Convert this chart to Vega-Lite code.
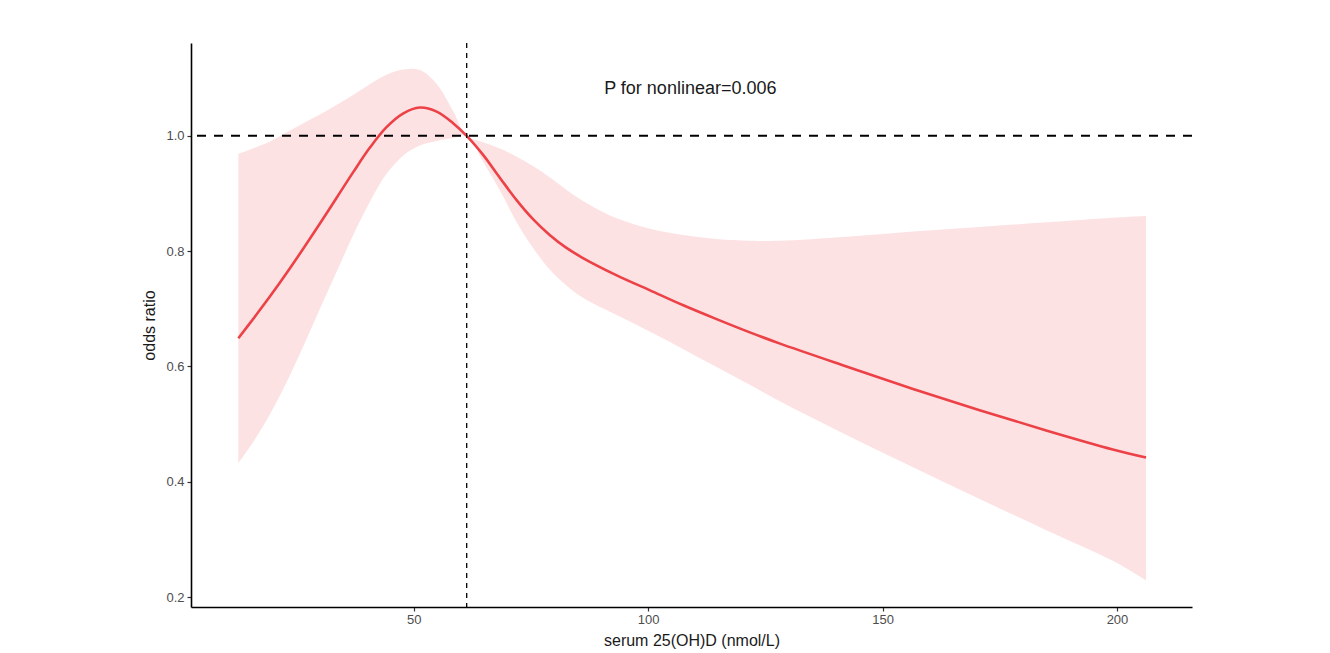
{
  "$schema": "https://vega.github.io/schema/vega-lite/v6.json",
  "width": 1001,
  "height": 564,
  "autosize": {"type": "none"},
  "padding": {"left": 191, "top": 43, "right": 138, "bottom": 46},
  "background": "white",
  "config": {
    "view": {"stroke": null},
    "font": "Liberation Sans",
    "axis": {
      "grid": false,
      "domainColor": "#000000",
      "domainWidth": 1.6,
      "tickColor": "#333333",
      "tickWidth": 1.2,
      "tickSize": 4,
      "labelColor": "#4d4d4d",
      "labelFontSize": 13,
      "labelFont": "Liberation Sans",
      "titleFont": "Liberation Sans",
      "titleFontSize": 16,
      "titleFontWeight": "normal",
      "titleColor": "#1a1a1a"
    }
  },
  "datasets": {
    "curve": [
      {"x": 12.6, "or": 0.649, "lo": 0.432, "hi": 0.969},
      {"x": 16.0, "or": 0.685, "lo": 0.472, "hi": 0.979},
      {"x": 19.4, "or": 0.722, "lo": 0.518, "hi": 0.990},
      {"x": 22.9, "or": 0.762, "lo": 0.573, "hi": 1.006},
      {"x": 26.5, "or": 0.805, "lo": 0.636, "hi": 1.022},
      {"x": 30.0, "or": 0.848, "lo": 0.700, "hi": 1.037},
      {"x": 33.6, "or": 0.893, "lo": 0.765, "hi": 1.054},
      {"x": 37.1, "or": 0.937, "lo": 0.828, "hi": 1.071},
      {"x": 40.7, "or": 0.980, "lo": 0.886, "hi": 1.090},
      {"x": 44.2, "or": 1.015, "lo": 0.934, "hi": 1.106},
      {"x": 47.8, "or": 1.039, "lo": 0.966, "hi": 1.115},
      {"x": 51.3, "or": 1.049, "lo": 0.983, "hi": 1.114},
      {"x": 54.9, "or": 1.042, "lo": 0.991, "hi": 1.090},
      {"x": 58.4, "or": 1.022, "lo": 0.996, "hi": 1.043},
      {"x": 61.3, "or": 1.000, "lo": 1.000, "hi": 1.000},
      {"x": 64.8, "or": 0.967, "lo": 0.955, "hi": 0.989},
      {"x": 68.4, "or": 0.927, "lo": 0.905, "hi": 0.978},
      {"x": 71.9, "or": 0.889, "lo": 0.851, "hi": 0.964},
      {"x": 75.5, "or": 0.855, "lo": 0.805, "hi": 0.947},
      {"x": 79.0, "or": 0.828, "lo": 0.768, "hi": 0.928},
      {"x": 82.5, "or": 0.806, "lo": 0.741, "hi": 0.907},
      {"x": 86.1, "or": 0.788, "lo": 0.719, "hi": 0.887},
      {"x": 93.3, "or": 0.758, "lo": 0.689, "hi": 0.857},
      {"x": 100.4, "or": 0.732, "lo": 0.660, "hi": 0.839},
      {"x": 107.5, "or": 0.706, "lo": 0.630, "hi": 0.828},
      {"x": 114.6, "or": 0.682, "lo": 0.599, "hi": 0.821},
      {"x": 121.7, "or": 0.659, "lo": 0.568, "hi": 0.818},
      {"x": 128.0, "or": 0.640, "lo": 0.540, "hi": 0.818},
      {"x": 142.3, "or": 0.600, "lo": 0.481, "hi": 0.825},
      {"x": 156.5, "or": 0.561, "lo": 0.425, "hi": 0.834},
      {"x": 170.7, "or": 0.524, "lo": 0.370, "hi": 0.842},
      {"x": 184.9, "or": 0.489, "lo": 0.316, "hi": 0.850},
      {"x": 199.1, "or": 0.456, "lo": 0.263, "hi": 0.858},
      {"x": 206.2, "or": 0.442, "lo": 0.229, "hi": 0.861}
    ],
    "refx": [{"x": 61.3}],
    "refy": [{"y": 1.0}],
    "note": [{"x": 109, "y": 1.081, "label": "P for nonlinear=0.006"}]
  },
  "layer": [
    {
      "data": {"name": "curve"},
      "mark": {"type": "area", "color": "#fde2e4", "opacity": 1, "interpolate": "catmull-rom"},
      "encoding": {
        "x": {"field": "x", "type": "quantitative", "scale": {"domain": [2.5, 216], "nice": false, "zero": false},
              "axis": {"values": [50, 100, 150, 200], "title": "serum 25(OH)D (nmol/L)", "labelPadding": 2, "titlePadding": 6}},
        "y": {"field": "lo", "type": "quantitative", "scale": {"domain": [0.1827, 1.161], "nice": false, "zero": false},
              "axis": {"values": [0.2, 0.4, 0.6, 0.8, 1.0], "format": ".1f", "title": "odds ratio", "labelPadding": 3, "titlePadding": 8}},
        "y2": {"field": "hi"}
      }
    },
    {
      "data": {"name": "curve"},
      "mark": {"type": "line", "color": "#ec4146", "strokeWidth": 2.6, "interpolate": "catmull-rom"},
      "encoding": {
        "x": {"field": "x", "type": "quantitative"},
        "y": {"field": "or", "type": "quantitative"}
      }
    },
    {
      "data": {"name": "refy"},
      "mark": {"type": "rule", "color": "#000000", "strokeWidth": 2, "strokeDash": [9, 8]},
      "encoding": {"y": {"field": "y", "type": "quantitative"}}
    },
    {
      "data": {"name": "refx"},
      "mark": {"type": "rule", "color": "#000000", "strokeWidth": 1.3, "strokeDash": [5, 5]},
      "encoding": {"x": {"field": "x", "type": "quantitative"}}
    },
    {
      "data": {"name": "note"},
      "mark": {"type": "text", "fontSize": 18, "color": "#1a1a1a", "font": "Liberation Sans", "align": "center", "baseline": "middle"},
      "encoding": {
        "x": {"field": "x", "type": "quantitative"},
        "y": {"field": "y", "type": "quantitative"},
        "text": {"field": "label"}
      }
    }
  ]
}
